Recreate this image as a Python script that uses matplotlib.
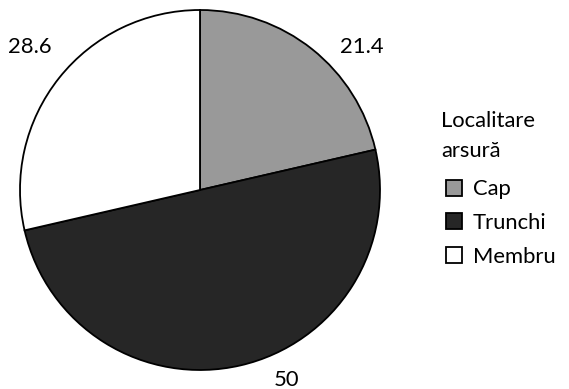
import matplotlib
matplotlib.use("Agg")
import numpy as np
import matplotlib.pyplot as plt
from matplotlib.lines import Line2D

categories = ["Cap", "Trunchi", "Membru"]
values = [21.4, 50, 28.6]
colors = ["#999999", "#262626", "#ffffff"]

plt.rcParams["font.family"] = ["Lato", "DejaVu Sans"]
FS = 15.8

fig = plt.figure(figsize=(5.69, 3.89), dpi=100)
ax = fig.add_axes([20 / 569, 19 / 389, 360 / 569, 360 / 389])

wedges, _ = ax.pie(
    values,
    colors=colors,
    startangle=90,
    counterclock=False,
    radius=1.0,
    wedgeprops=dict(edgecolor="black", linewidth=1.3),
)

# value labels: placed outside each slice, nudged around the rim
label_turn = [-10.1, 11.6, -1.5]      # degrees away from the slice's middle
label_radius = [1.20, 1.16, 1.233]
for w, v, dang, r in zip(wedges, values, label_turn, label_radius):
    mid = np.deg2rad((w.theta1 + w.theta2) / 2 + dang)
    ax.text(r * np.cos(mid), r * np.sin(mid), f"{v:g}", ha="center", va="center",
            fontsize=FS, color="black", clip_on=False)

ax.set_xlim(-1, 1)
ax.set_ylim(-1, 1)
ax.set_aspect("equal")

handles = [
    Line2D([0], [0], marker="s", linestyle="none", markersize=11.5,
           markerfacecolor=c, markeredgecolor="black", markeredgewidth=1.3)
    for c in colors
]
leg = fig.legend(
    handles, categories,
    title="Localitare\narsură",
    loc="upper left",
    bbox_to_anchor=(441 / 569, 1 - 111 / 389),
    frameon=False,
    fontsize=FS,
    title_fontsize=FS,
    handlelength=1.2,
    handletextpad=0.25,
    labelspacing=0.62,
    alignment="left",
    borderpad=0.0,
    borderaxespad=0.0,
)
leg.get_title().set_linespacing(1.65)
leg._legend_box.sep = 13

fig.savefig("out.png", dpi=100)
